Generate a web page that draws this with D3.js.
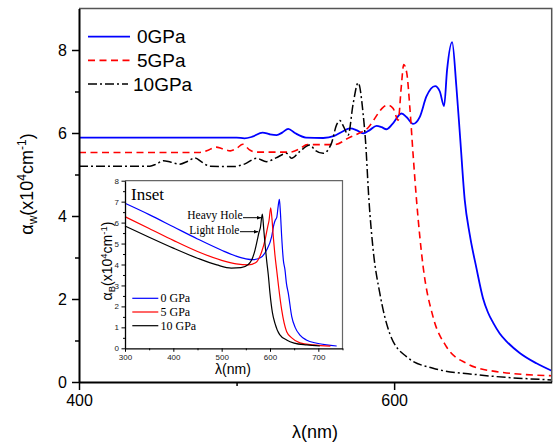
<!DOCTYPE html>
<html>
<head>
<meta charset="utf-8">
<script src="https://cdn.jsdelivr.net/npm/d3@7"></script>
<style>
  body { margin: 0; background: #fff; }
  svg { display: block; }
  .axis text { font-family: "Liberation Sans", Arial, sans-serif; }
</style>
</head>
<body>
<div id="chart"></div>
<script>
// main plot: wavelength (nm) and absorption (x10^4 cm^-1) per pressure
const lam0 = [400, 500, 505, 510, 516.5, 521, 525.4, 529, 532.8, 537, 544, 555, 562, 567, 572, 576, 580.3, 584.5, 588.8, 592, 595.1, 599, 604.7, 608, 612, 616.3, 620.5, 626, 629, 631.7, 633.6, 636.8, 639.5, 642, 644.8, 648, 652.2, 656.4, 659.5, 662.8, 667, 671.3, 679.7, 690.3, 700];
const abs0 = [5.89, 5.89, 5.87, 5.91, 6.01, 5.97, 5.95, 6.01, 6.10, 6.0, 5.89, 5.88, 5.93, 6.03, 6.11, 6.07, 5.99, 6.07, 6.17, 6.14, 6.09, 6.22, 6.47, 6.38, 6.22, 6.39, 6.88, 7.13, 7.0, 6.65, 7.52, 8.19, 7.12, 5.83, 4.39, 3.55, 2.75, 2.02, 1.68, 1.43, 1.17, 0.98, 0.70, 0.45, 0.27];

const lam5 = [400, 476, 481, 487, 491, 496, 500, 504, 508, 512, 534, 540, 545, 555, 562, 572, 578, 584, 587, 590, 593, 596.2, 599.4, 602.6, 604.5, 606.1, 608, 610, 612, 614.2, 618.4, 624.7, 633.2, 645.9, 664.9, 700];
const abs5 = [5.53, 5.53, 5.57, 5.66, 5.62, 5.57, 5.63, 5.73, 5.6, 5.54, 5.54, 5.62, 5.72, 5.72, 5.72, 5.9, 6.0, 6.15, 6.31, 6.48, 6.62, 6.67, 6.59, 6.31, 7.1, 7.65, 7.45, 6.6, 5.5, 4.39, 2.78, 1.57, 0.85, 0.45, 0.25, 0.15];

const lam10 = [400, 445, 449, 453.5, 458, 464, 469, 473.6, 478, 483, 497.8, 505, 512.7, 519, 525, 531.7, 534.9, 540, 546.5, 550, 555, 560.2, 563.4, 565.5, 568, 570.8, 574, 577.2, 580.3, 581.8, 584, 586.7, 590.9, 597.2, 607.8, 624.7, 654.3, 700];
const abs10 = [5.20, 5.20, 5.25, 5.33, 5.3, 5.25, 5.32, 5.40, 5.3, 5.2, 5.19, 5.25, 5.39, 5.31, 5.40, 5.51, 5.39, 5.55, 5.71, 5.58, 5.51, 5.75, 6.19, 6.30, 6.15, 5.95, 6.71, 7.21, 6.47, 5.83, 4.39, 3.18, 2.14, 1.17, 0.61, 0.33, 0.17, 0.05];

// inset: bulk absorption
const lamB0 = [300, 350, 400, 450, 500, 530, 550, 565, 580, 593, 603.4, 608, 611, 614, 617, 619.4, 621.5, 624, 627.6, 631, 634, 637.9, 645, 652, 662, 675, 697, 717, 738];
const absB0 = [6.92, 6.38, 5.80, 5.22, 4.68, 4.40, 4.27, 4.23, 4.32, 4.69, 5.33, 5.9, 6.12, 6.25, 6.8, 7.11, 6.5, 5.4, 4.21, 3.74, 3.1, 2.62, 1.51, 1.0, 0.63, 0.4, 0.24, 0.16, 0.11];

const lamB5 = [300, 350, 400, 450, 500, 530, 555, 570, 582.8, 590, 595.2, 598, 601.4, 604, 606.8, 610, 613.8, 618, 624.2, 634.5, 645, 662, 690, 725];
const absB5 = [6.28, 5.72, 5.15, 4.62, 4.2, 4.03, 3.98, 4.08, 4.61, 5.2, 5.8, 6.1, 6.71, 6.2, 5.33, 4.5, 3.74, 2.9, 1.83, 0.79, 0.5, 0.26, 0.16, 0.1];

const lamB10 = [300, 350, 400, 450, 490, 520, 540, 555, 562, 569, 574, 577.3, 580, 584.1, 587, 590, 593, 596.5, 600, 605, 610.3, 620, 634.4, 650, 676, 703];
const absB10 = [5.84, 5.3, 4.78, 4.3, 3.98, 3.83, 3.85, 4.0, 4.21, 4.69, 5.2, 5.54, 5.75, 6.4, 5.7, 4.9, 4.21, 3.5, 2.62, 1.7, 1.19, 0.65, 0.40, 0.25, 0.16, 0.11];

const mainLabels = ["0GPa", "5GPa", "10GPa"];
const insetLabels = ["0 GPa", "5 GPa", "10 GPa"];
const mainYTicks = [0, 2, 4, 6, 8];
const mainXTicks = [400, 600];

const zip = (xs, ys) => xs.map((x, i) => ({x: x, y: ys[i]}));

const svg = d3.select("#chart").append("svg")
    .attr("width", 556)
    .attr("height", 447);

// ---------- main plot ----------
const x = d3.scaleLinear().domain([400, 700]).range([79, 551.7]);
const y = d3.scaleLinear().domain([0, 9]).range([382, 8.5]);

const series = [
    {data: zip(lam0, abs0), color: "#0000ff", dash: null, width: 1.8},
    {data: zip(lam5, abs5), color: "#ff0000", dash: "7,4.5", width: 1.6},
    {data: zip(lam10, abs10), color: "#000000", dash: "9,3,2,3", width: 1.5}
];

const line = d3.line()
    .x(d => x(d.x))
    .y(d => y(d.y))
    .curve(d3.curveMonotoneX);

svg.append("g").selectAll("path")
    .data(series)
    .enter().append("path")
    .attr("d", d => line(d.data))
    .attr("fill", "none")
    .attr("stroke", d => d.color)
    .attr("stroke-width", d => d.width)
    .attr("stroke-dasharray", d => d.dash);

// frame top and right
svg.append("path")
    .attr("d", `M${x(400)},${y(9)}H${x(700)}V${y(0)}`)
    .attr("fill", "none")
    .attr("stroke", "#555")
    .attr("stroke-width", 1.5);

const yAxis = svg.append("g")
    .attr("class", "axis")
    .attr("transform", `translate(${x(400)},0)`)
    .call(d3.axisLeft(y).tickValues(mainYTicks).tickSize(7).tickSizeOuter(0).tickPadding(5));
svg.append("g")
    .attr("transform", `translate(${x(400)},0)`)
    .call(d3.axisLeft(y).tickValues([1, 3, 5, 7]).tickFormat("").tickSize(4))
    .call(g => g.select(".domain").remove());

const xAxis = svg.append("g")
    .attr("class", "axis")
    .attr("transform", `translate(0,${y(0)})`)
    .call(d3.axisBottom(x).tickValues(mainXTicks).tickSize(8).tickSizeOuter(0).tickPadding(5));
svg.append("g")
    .attr("transform", `translate(0,${y(0)})`)
    .call(d3.axisBottom(x).tickValues([500]).tickFormat("").tickSize(4))
    .call(g => g.select(".domain").remove());

svg.selectAll(".axis .domain").attr("stroke-width", 2);
svg.selectAll("line").attr("stroke-width", 1.5);
yAxis.selectAll("text").attr("font-size", 16).attr("fill", "#000");
xAxis.selectAll("text").attr("font-size", 16).attr("fill", "#000");

// axis titles
svg.append("text")
    .attr("x", 315)
    .attr("y", 438)
    .attr("text-anchor", "middle")
    .attr("font-family", "Liberation Sans, Arial, sans-serif")
    .attr("font-size", 18)
    .text("λ(nm)");

const yTitle = svg.append("text")
    .attr("transform", "translate(33,184) rotate(-90)")
    .attr("text-anchor", "middle")
    .attr("font-family", "Liberation Sans, Arial, sans-serif")
    .attr("font-size", 18);
yTitle.append("tspan").text("α");
yTitle.append("tspan").attr("font-size", 12).attr("dy", 4).text("w");
yTitle.append("tspan").attr("dy", -4).text("(x10");
yTitle.append("tspan").attr("font-size", 12).attr("dy", -7).text("4");
yTitle.append("tspan").attr("dy", 7).text("cm");
yTitle.append("tspan").attr("font-size", 12).attr("dy", -7).text("-1");
yTitle.append("tspan").attr("dy", 7).text(")");

// legend
const legend = svg.append("g");
series.forEach((s, i) => {
    const ly = 36.7 + i * 23.7;
    legend.append("line")
        .attr("x1", 88).attr("x2", i === 2 ? 128 : 130)
        .attr("y1", ly).attr("y2", ly)
        .attr("stroke", s.color)
        .attr("stroke-width", s.width)
        .attr("stroke-dasharray", s.dash);
    legend.append("text")
        .attr("x", i === 2 ? 133 : 137)
        .attr("y", ly + 6.7)
        .attr("font-family", "Liberation Sans, Arial, sans-serif")
        .attr("font-size", 19)
        .text(mainLabels[i]);
});

// ---------- inset ----------
const inset = svg.append("g");
const ix = d3.scaleLinear().domain([300, 750]).range([125, 342.5]);
const iy = d3.scaleLinear().domain([0, 8]).range([348.3, 180.7]);

const insetSeries = [
    {data: zip(lamB0, absB0), color: "#0000ff"},
    {data: zip(lamB5, absB5), color: "#ff0000"},
    {data: zip(lamB10, absB10), color: "#000000"}
];

const iline = d3.line()
    .x(d => ix(d.x))
    .y(d => iy(d.y))
    .curve(d3.curveMonotoneX);

inset.append("g").selectAll("path")
    .data(insetSeries)
    .enter().append("path")
    .attr("d", d => iline(d.data))
    .attr("fill", "none")
    .attr("stroke", d => d.color)
    .attr("stroke-width", 1.2);

inset.append("path")
    .attr("d", `M${ix(300)},${iy(8)}H${ix(750)}V${iy(0)}`)
    .attr("fill", "none")
    .attr("stroke", "#666")
    .attr("stroke-width", 1.2);

inset.append("g")
    .attr("transform", `translate(${ix(300)},0)`)
    .call(d3.axisLeft(iy).tickValues(d3.range(0, 9)).tickSize(3.5).tickSizeOuter(0).tickPadding(2.5));
inset.append("g")
    .attr("transform", `translate(${ix(300)},0)`)
    .call(d3.axisLeft(iy).tickValues(d3.range(0.5, 8, 1)).tickFormat("").tickSize(2))
    .call(g => g.select(".domain").remove());

inset.append("g")
    .attr("transform", `translate(0,${iy(0)})`)
    .call(d3.axisBottom(ix).tickValues(d3.range(300, 701, 100)).tickSize(3.5).tickSizeOuter(0).tickPadding(3));
inset.append("g")
    .attr("transform", `translate(0,${iy(0)})`)
    .call(d3.axisBottom(ix).tickValues(d3.range(350, 751, 100)).tickFormat("").tickSize(2))
    .call(g => g.select(".domain").remove());

inset.selectAll(".domain").attr("stroke-width", 1.3);
inset.selectAll(".tick line").attr("stroke-width", 1);
inset.selectAll(".tick text")
    .attr("font-family", "Liberation Sans, Arial, sans-serif")
    .attr("font-size", 8)
    .attr("fill", "#222");

inset.append("text")
    .attr("x", 131)
    .attr("y", 199.5)
    .attr("font-family", "Liberation Serif, Times New Roman, serif")
    .attr("font-size", 17)
    .text("Inset");

inset.append("text")
    .attr("x", 233)
    .attr("y", 374)
    .attr("text-anchor", "middle")
    .attr("font-family", "Liberation Sans, Arial, sans-serif")
    .attr("font-size", 14)
    .text("λ(nm)");

const iyTitle = inset.append("text")
    .attr("transform", "translate(112,261) rotate(-90)")
    .attr("text-anchor", "middle")
    .attr("font-family", "Liberation Sans, Arial, sans-serif")
    .attr("font-size", 14);
iyTitle.append("tspan").text("α");
iyTitle.append("tspan").attr("font-size", 9.5).attr("dy", 3).text("B");
iyTitle.append("tspan").attr("dy", -3).text("(x10");
iyTitle.append("tspan").attr("font-size", 9.5).attr("dy", -5.5).text("4");
iyTitle.append("tspan").attr("dy", 5.5).text("cm");
iyTitle.append("tspan").attr("font-size", 9.5).attr("dy", -5.5).text("-1");
iyTitle.append("tspan").attr("dy", 5.5).text(")");

// inset legend
insetSeries.forEach((s, i) => {
    const ly = 298.3 + i * 13.7;
    inset.append("line")
        .attr("x1", 132.3).attr("x2", 158.3)
        .attr("y1", ly).attr("y2", ly)
        .attr("stroke", s.color)
        .attr("stroke-width", 1.2);
    inset.append("text")
        .attr("x", 160.5)
        .attr("y", ly + 4)
        .attr("font-family", "Liberation Serif, Times New Roman, serif")
        .attr("font-size", 12)
        .text(insetLabels[i]);
});

// hole annotations
svg.append("defs").append("marker")
    .attr("id", "arrow")
    .attr("viewBox", "0 0 10 10")
    .attr("refX", 9).attr("refY", 5)
    .attr("markerWidth", 5).attr("markerHeight", 5)
    .attr("orient", "auto")
    .append("path")
    .attr("d", "M0,1L10,5L0,9z")
    .attr("fill", "#000");

const notes = [
    {text: "Heavy Hole", tx: 187.3, ty: 219, ax1: 243, ax2: 261, ay: 217.7},
    {text: "Light Hole", tx: 189.3, ty: 234, ax1: 240, ax2: 258, ay: 231.7}
];
notes.forEach(n => {
    inset.append("text")
        .attr("x", n.tx)
        .attr("y", n.ty)
        .attr("font-family", "Liberation Serif, Times New Roman, serif")
        .attr("font-size", 11.5)
        .text(n.text);
    inset.append("line")
        .attr("x1", n.ax1).attr("x2", n.ax2)
        .attr("y1", n.ay).attr("y2", n.ay)
        .attr("stroke", "#000")
        .attr("stroke-width", 1)
        .attr("marker-end", "url(#arrow)");
});
</script>
</body>
</html>
